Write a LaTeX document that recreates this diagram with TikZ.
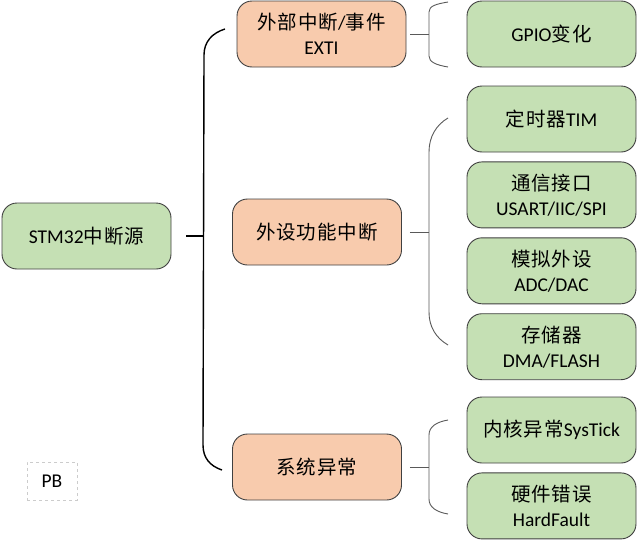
\documentclass[tikz,border=0pt]{standalone}
\usepackage{fontspec}
\setmainfont{Carlito}
\newfontfamily\cjk[LetterSpace=5]{Noto Sans CJK SC}
\usetikzlibrary{positioning}

\definecolor{leafgreen}{HTML}{C5E0B4}
\definecolor{branchorange}{HTML}{F8CBAD}
\definecolor{edgegray}{HTML}{404040}
\definecolor{bracegray}{HTML}{595959}

\newcommand{\zh}[1]{{\cjk #1}}

\tikzset{
  box/.style={draw=edgegray, line width=0.9pt, rounded corners=15pt,
    minimum width=169pt, minimum height=66pt, align=center,
    font=\fontsize{19.5}{25}\selectfont, text=black},
  leaf/.style={box, fill=leafgreen},
  branch/.style={box, fill=branchorange},
  bigbrace/.style={line width=1.4pt, black},
  smallbrace/.style={line width=0.9pt, bracegray}
}

\begin{document}
\begin{tikzpicture}[x=1pt, y=-1pt, node distance=9pt]
    \useasboundingbox (0,0) rectangle (637,541);

    % root
    \node[leaf] (root) at (86.5,236) {STM32\zh{中断源}};

    % middle level
    \node[branch] (exti) at (321.5,34) {\zh{外部中断}/\zh{事件}\\EXTI};
    \node[branch] (periph) at (317,232) {\zh{外设功能中断}};
    \node[branch] (sysexc) at (317,467) {\zh{系统异常}};

    % leaves
    \node[leaf] (gpio) at (551.5,34) {GPIO\zh{变化}};
    \node[leaf] (tim) at (551.5,119) {\zh{定时器}TIM};
    \node[leaf, below=of tim] (comm) {\zh{通信接口}\\USART/IIC/SPI};
    \node[leaf, below=of comm] (adc) {\zh{模拟外设}\\ADC/DAC};
    \node[leaf, below=of adc] (mem) {\zh{存储器}\\DMA/FLASH};
    \node[leaf] (systick) at (551.5,430) {\zh{内核异常}SysTick};
    \node[leaf, below=of systick] (fault) {\zh{硬件错误}\\HardFault};

    % root brace
    \draw[bigbrace] ([xshift=15pt]root.east) -- ([xshift=33pt]root.east);
    \draw[bigbrace] (225,29) .. controls (212,33) and (204,42) .. (204,55)
        -- (203,445) .. controls (203,458) and (210,466) .. (222,470);

    % EXTI brace
    \draw[smallbrace] ([xshift=4pt]exti.east) -- ([xshift=23pt]exti.east);
    \draw[smallbrace] (448,2) .. controls (436,4) and (429,6) .. (429,12)
        -- (429,56) .. controls (429,62) and (436,65) .. (448,67);

    % peripheral brace
    \draw[smallbrace] ([xshift=8pt]periph.east) -- ([xshift=27pt]periph.east);
    \draw[smallbrace] (448,118) .. controls (436,125) and (429,137) .. (429,152)
        -- (429,312) .. controls (429,327) and (436,338) .. (448,345);

    % system exception brace
    \draw[smallbrace] ([xshift=8pt]sysexc.east) -- ([xshift=27pt]sysexc.east);
    \draw[smallbrace] (448,420) .. controls (436,422) and (429,427) .. (429,435)
        -- (429,499) .. controls (429,507) and (436,512) .. (448,514);

    % tag
    \node[draw=black!20, dashed, minimum width=50pt, minimum height=38pt,
        font=\fontsize{19.5}{20}\selectfont] (tag) at (52,481) {PB};
\end{tikzpicture}
\end{document}
